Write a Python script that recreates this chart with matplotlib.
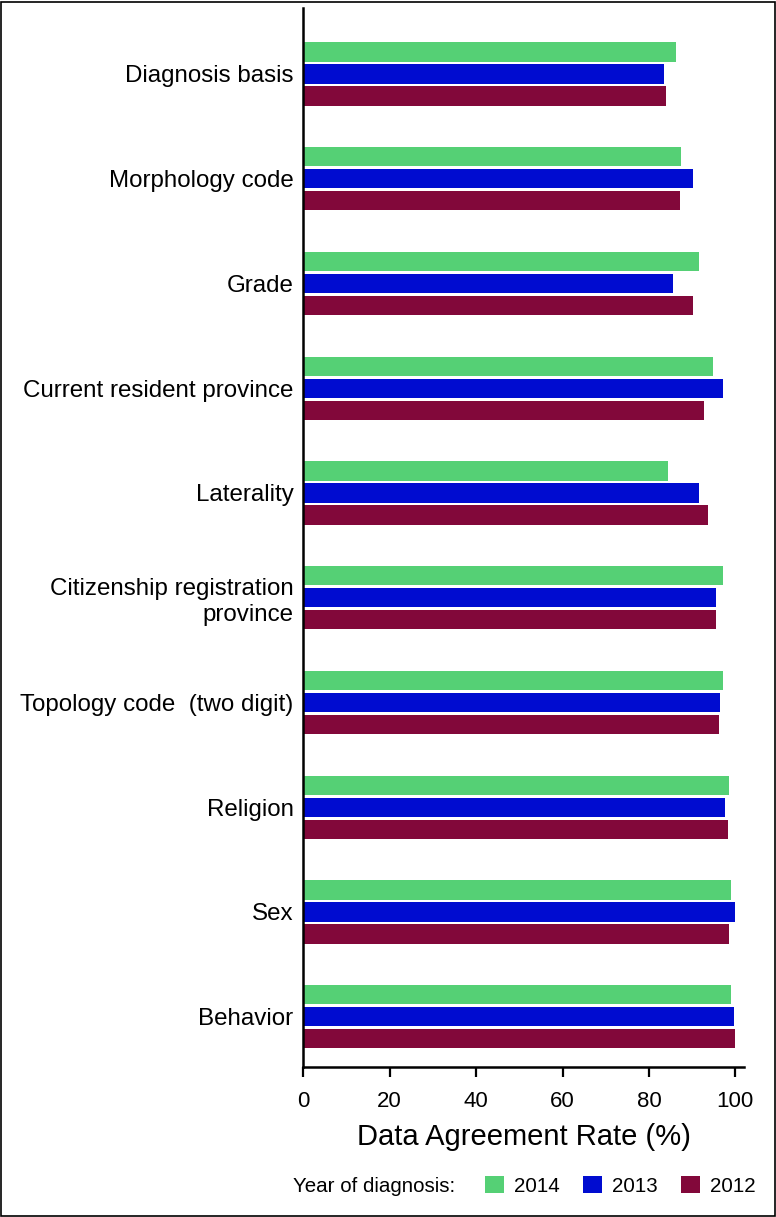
import matplotlib
matplotlib.use("Agg")
import matplotlib.pyplot as plt
from matplotlib.patches import Rectangle, Patch
import numpy as np

categories = ["Diagnosis basis", "Morphology code", "Grade", "Current resident province",
              "Laterality", "Citizenship registration\nprovince", "Topology code  (two digit)",
              "Religion", "Sex", "Behavior"]
years = ["2014", "2013", "2012"]
vals_2014 = [86.2, 87.5, 91.7, 94.9, 84.5, 97.1, 97.1, 98.5, 99.1, 99.1]
vals_2013 = [83.5, 90.3, 85.5, 97.1, 91.7, 95.6, 96.4, 97.7, 100.0, 99.8]
vals_2012 = [83.9, 87.1, 90.3, 92.7, 93.7, 95.6, 96.1, 98.2, 98.5, 100.0]
xticks = [0, 20, 40, 60, 80, 100]
colors = ["#55D075", "#000CD0", "#82083A"]

plt.rcParams['font.family'] = ['Liberation Sans', 'DejaVu Sans']

W, H = 776, 1217
fig = plt.figure(figsize=(W / 100, H / 100), dpi=100)
ax = fig.add_axes([303.3 / W, 1 - 1067 / H, (744 - 303.3) / W, (1067 - 8) / H])

y = np.arange(len(categories))
step = 0.21
hgt = 0.182
for k, (vals, c) in enumerate(zip([vals_2014, vals_2013, vals_2012], colors)):
    ax.barh(y + (k - 1) * step, vals, height=hgt, color=c, edgecolor='none', label=years[k])

ax.set_xlim(0, 102)
ax.set_ylim(9.48, -0.63)
ax.set_yticks(y)
ax.set_yticklabels(categories, fontsize=17.4)
ax.tick_params(axis='y', length=0, pad=7)
ax.set_xticks(xticks)
ax.set_xticklabels([str(t) for t in xticks], fontsize=16)
ax.tick_params(axis='x', length=7, width=1.6, pad=10, direction='out')
for s in ['top', 'right']:
    ax.spines[s].set_visible(False)
for s in ['left', 'bottom']:
    ax.spines[s].set_linewidth(1.8)
ax.set_xlabel("Data Agreement Rate (%)", fontsize=21, labelpad=8)

# legend
fig.text(293 / W, 1 - 1186 / H, "Year of diagnosis:", fontsize=14.8, va='center', ha='left')
handles = [Patch(facecolor=c, edgecolor='none') for c in colors]
fig.legend(handles, years, loc='center left', bbox_to_anchor=(485 / W, 1 - 1186 / H),
           ncol=3, frameon=False, fontsize=14.8, handlelength=0.9, handleheight=0.9,
           handletextpad=0.5, columnspacing=1.15, borderpad=0, borderaxespad=0)

# outer frame
fig.patches.append(Rectangle((1 / W, 1 / H), (W - 2.5) / W, (H - 2.5) / H, transform=fig.transFigure,
                             fill=False, edgecolor='black', linewidth=1.2))

fig.savefig("out.png", dpi=100)
